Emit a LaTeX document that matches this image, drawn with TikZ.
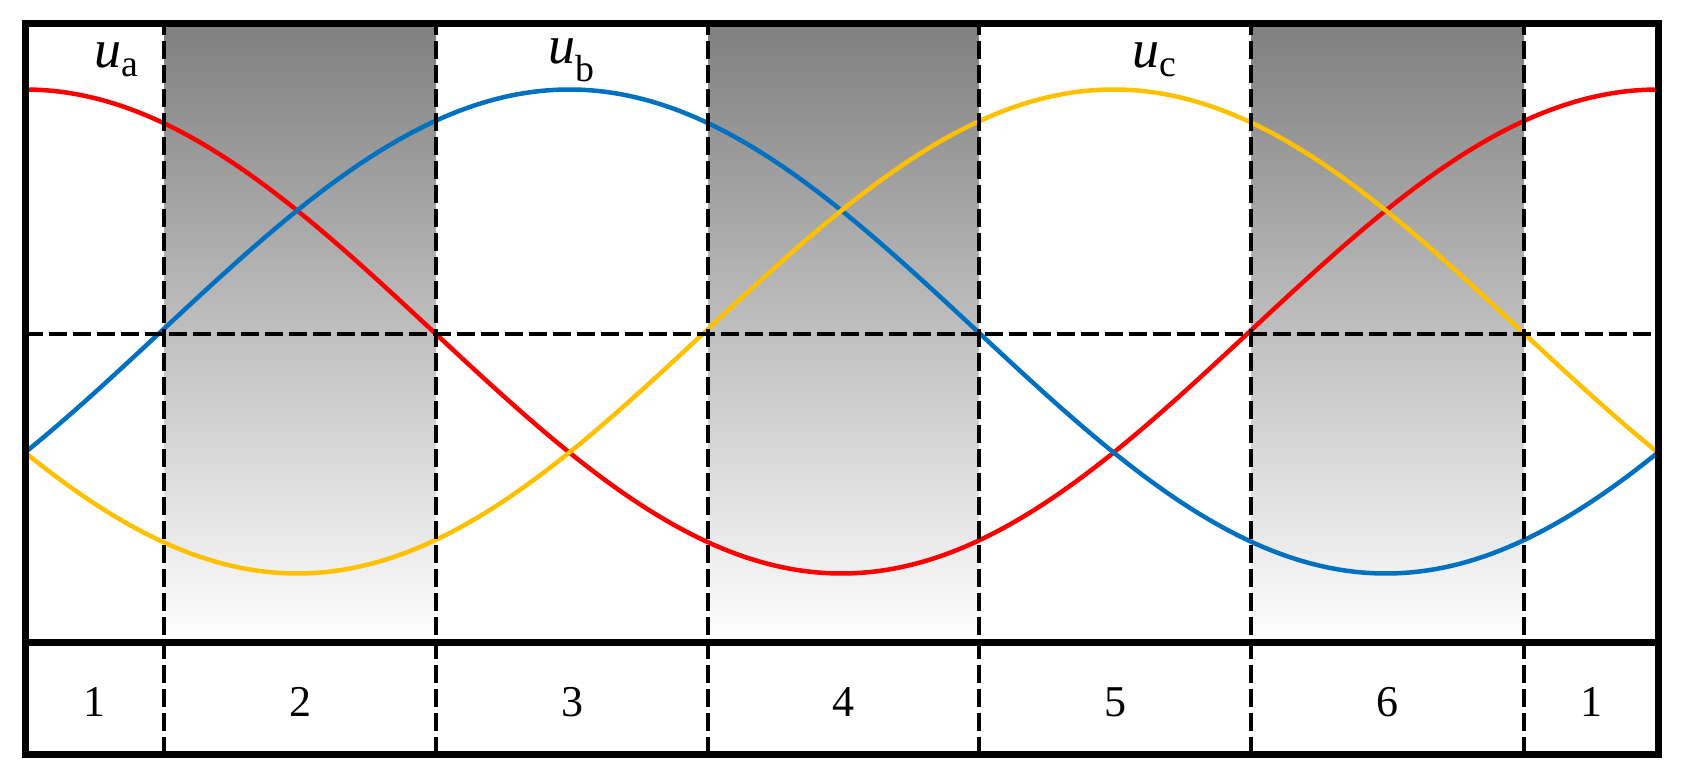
\documentclass[tikz,border=0pt]{standalone}
\usepackage{fontspec}
\setmainfont{Liberation Serif}
\definecolor{shade}{RGB}{248,218,216}
\definecolor{cr}{RGB}{255,0,0}
\definecolor{cb}{RGB}{0,112,192}
\definecolor{cy}{RGB}{255,192,0}
\begin{document}
\begin{tikzpicture}[x=1pt,y=1pt,
  dline/.style={line width=4.5pt,dash pattern=on 18pt off 6pt},
  wave/.style={line width=4.5pt},
  lbl/.style={font=\fontsize{44}{44}\selectfont},
  ulbl/.style={font=\fontsize{54}{54}\selectfont}]
\useasboundingbox (0,0) rectangle (1682,782);
% shaded bands
\foreach \a/\b in {164/436,708/979,1251/1524}
  \fill[shade] (\a,139) rectangle (\b,758);
% curves
\draw[wave,cr] plot[variable=\t,domain=0:360,samples=200,smooth] ({25+\t*4.5361},{450.5+242*cos(\t)});
\draw[wave,cb] plot[variable=\t,domain=0:360,samples=200,smooth] ({25+\t*4.5361},{450.5+242*cos(\t-120)});
\draw[wave,cy] plot[variable=\t,domain=0:360,samples=200,smooth] ({25+\t*4.5361},{450.5+242*cos(\t+120)});
% dashed lines
\draw[dline] (25,448) -- (1658,448);
\foreach \x in {164,436,708,979,1251,1524}
  \draw[dline] (\x,27) -- (\x,758);
% frame
\draw[line width=7pt] (25,27) rectangle (1658,758);
\draw[line width=7pt] (25,139) -- (1658,139);
% labels
\foreach \x/\t [count=\i] in {94/1,300/2,572/3,843/4,1115/5,1387/6,1591/1}
  \node[lbl] (n\i) at (\x,80) {\t};
\node[ulbl] (la) at (117,722) {\textit{u}\textsubscript{a}};
\node[ulbl] (lb) at (572,722) {\textit{u}\textsubscript{b}};
\node[ulbl] (lc) at (1155,722) {\textit{u}\textsubscript{c}};
\end{tikzpicture}
\end{document}
